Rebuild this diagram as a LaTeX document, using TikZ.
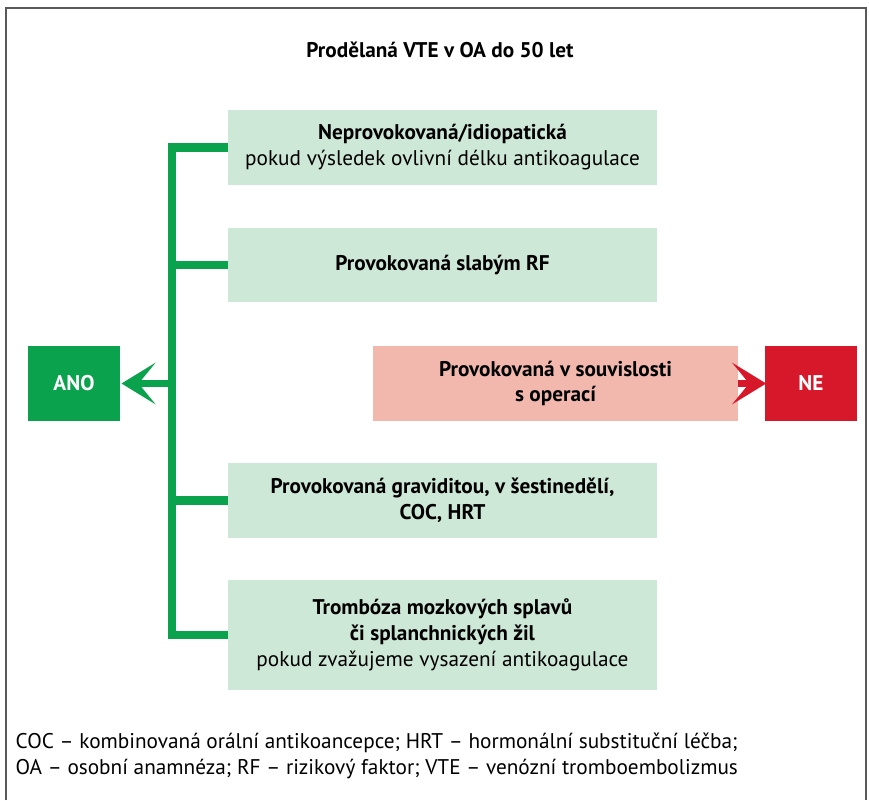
\documentclass[tikz,border=0pt]{standalone}
\usepackage{fontspec}
\setmainfont{PT Sans}
\usetikzlibrary{arrows.meta, positioning}
\definecolor{boxgreen}{HTML}{CDE8D6}
\definecolor{darkgreen}{HTML}{0BA24E}
\definecolor{boxred}{HTML}{F2B8AE}
\definecolor{darkred}{HTML}{D7182A}
\tikzset{
  px/.style={x=0.02646cm, y=-0.02646cm},
  item/.style={fill=boxgreen, minimum width=11.35cm, minimum height=1.98cm, align=center, font=\fontsize{16}{19.5}\selectfont},
  answer/.style={minimum width=2.43cm, minimum height=1.98cm, text=white, font=\bfseries\fontsize{16}{19.5}\selectfont},
  bar/.style={darkgreen, line width=2.2mm}
}
\begin{document}
\begin{tikzpicture}[px]
	\useasboundingbox (0,0) rectangle (869,800);
	\draw[gray!70!black, line width=0.8pt] (6,800) -- (6,8) -- (866,8) -- (866,800);
	
	\node (title) at (440,50) {\bfseries\fontsize{16}{19.5}\selectfont Prodělaná VTE v OA do 50 let};
	
	\node (idio) [item] at (442.5,147.5) {\textbf{Neprovokovaná/idiopatická}\\pokud výsledek ovlivní délku antikoagulace};
	\node (weak) [item] at (442.5,265) {\textbf{Provokovaná slabým RF}};
	\node (oper) [item, fill=boxred, minimum width=9.66cm] at (555.5,383.5) {\textbf{Provokovaná v souvislosti}\\\textbf{s operací}};
	\node (grav) [item] at (442.5,500.5) {\textbf{Provokovaná graviditou, v šestinedělí,}\\\textbf{COC, HRT}};
	\node (tromb) [item, minimum height=2.91cm] at (442.5,635) {\textbf{Trombóza mozkových splavů}\\\textbf{či splanchnických žil}\\pokud zvažujeme vysazení antikoagulace};
	\node (ano) [answer, fill=darkgreen] at (74,383.5) {ANO};
	\node (ne) [answer, fill=darkred] at (811,383.5) {NE};
	
	\coordinate (top) at (172,147.5);
	\coordinate (bottom) at (172,635);
	\coordinate (mid) at (172,383.5);
	\draw[bar] (idio.west) -- (top) -- (bottom) -- (tromb.west);
	\draw[bar] (weak.west) -- (weak.west -| top);
	\draw[bar] (grav.west) -- (grav.west -| top);
	\draw[darkgreen, line width=1.6mm, -{Stealth[length=9mm, width=11mm, inset=4.5mm]}] (mid) -- ([xshift=1pt]ano.east);
	\draw[darkred, line width=1.6mm, -{Stealth[length=9mm, width=11mm, inset=4.5mm]}] (oper.east) -- ([xshift=1pt]ne.west);
	
	\node (legend) [anchor=north west, align=left, font=\fontsize{16}{20}\selectfont] at (11,728) {COC – kombinovaná orální antikoancepce; HRT – hormonální substituční léčba;\\OA – osobní anamnéza; RF – rizikový faktor; VTE – venózní tromboembolizmus};
\end{tikzpicture}
\end{document}
